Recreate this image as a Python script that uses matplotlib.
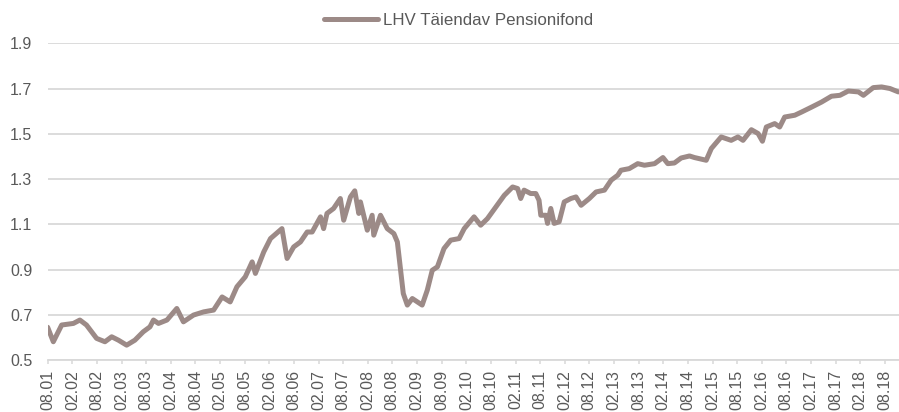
import matplotlib
matplotlib.use('Agg')
import matplotlib.pyplot as plt
import matplotlib.dates as mdates
import numpy as np
import pandas as pd

plt.rcParams['font.family'] = ['Liberation Sans', 'DejaVu Sans']

# values
dates = ['2001-08-01', '2001-09-12', '2001-11-13', '2002-02-08', '2002-03-28', '2002-05-16',
         '2002-07-30', '2002-09-30', '2002-11-19', '2003-01-08', '2003-03-10', '2003-05-10',
         '2003-07-11', '2003-08-30', '2003-09-25', '2003-11-01', '2004-01-03', '2004-03-16',
         '2004-05-04', '2004-07-18', '2004-10-01', '2004-12-14', '2005-02-15', '2005-04-16',
         '2005-06-05', '2005-08-06', '2005-09-26', '2005-10-20', '2005-12-21', '2006-02-09',
         '2006-05-05', '2006-06-12', '2006-07-31', '2006-09-19', '2006-11-08', '2006-12-15',
         '2007-02-15', '2007-03-10', '2007-04-04', '2007-05-23', '2007-07-12', '2007-08-06',
         '2007-09-25', '2007-10-27', '2007-11-26', '2007-12-08', '2008-01-28', '2008-03-04',
         '2008-03-16', '2008-05-05', '2008-06-24', '2008-08-12', '2008-09-07', '2008-10-01',
         '2008-10-21', '2008-11-20', '2008-12-27', '2009-02-03', '2009-03-10', '2009-04-17',
         '2009-05-24', '2009-07-01', '2009-08-19', '2009-10-08', '2009-12-09', '2010-01-16',
         '2010-03-30', '2010-05-18', '2010-07-07', '2010-09-08', '2010-11-09', '2011-01-10',
         '2011-02-16', '2011-03-11', '2011-04-05', '2011-05-24', '2011-07-01', '2011-07-25',
         '2011-08-07', '2011-09-14', '2011-09-26', '2011-10-20', '2011-11-14', '2011-12-21',
         '2012-01-28', '2012-03-17', '2012-04-24', '2012-06-01', '2012-08-01', '2012-09-20',
         '2012-11-21', '2013-01-10', '2013-02-28', '2013-03-24', '2013-05-24', '2013-07-26',
         '2013-09-14', '2013-11-28', '2014-01-29', '2014-03-06', '2014-04-24', '2014-06-13',
         '2014-08-14', '2014-09-20', '2014-10-27', '2014-12-16', '2015-01-23', '2015-04-06',
         '2015-06-19', '2015-08-08', '2015-09-15', '2015-11-16', '2016-01-05', '2016-02-06',
         '2016-03-06', '2016-05-07', '2016-06-13', '2016-07-20', '2016-10-03', '2016-11-22',
         '2017-02-05', '2017-04-19', '2017-07-02', '2017-09-03', '2017-11-04', '2018-01-18',
         '2018-02-24', '2018-05-08', '2018-07-09', '2018-09-09', '2018-11-10']
values = [0.645, 0.581, 0.655, 0.662, 0.677, 0.655,
          0.596, 0.581, 0.603, 0.588, 0.566, 0.588,
          0.625, 0.647, 0.677, 0.662, 0.677, 0.728,
          0.669, 0.699, 0.713, 0.721, 0.779, 0.757,
          0.824, 0.868, 0.934, 0.883, 0.978, 1.037,
          1.081, 0.949, 1.000, 1.022, 1.066, 1.066,
          1.133, 1.081, 1.148, 1.170, 1.214, 1.118,
          1.221, 1.248, 1.148, 1.199, 1.074, 1.140,
          1.052, 1.140, 1.081, 1.059, 1.022, 0.897,
          0.794, 0.743, 0.772, 0.757, 0.743, 0.809,
          0.897, 0.912, 0.993, 1.030, 1.037, 1.081,
          1.133, 1.096, 1.125, 1.177, 1.228, 1.265,
          1.258, 1.214, 1.251, 1.236, 1.236, 1.206,
          1.140, 1.140, 1.104, 1.170, 1.104, 1.111,
          1.199, 1.214, 1.221, 1.184, 1.214, 1.243,
          1.251, 1.295, 1.317, 1.339, 1.346, 1.368,
          1.361, 1.368, 1.395, 1.368, 1.371, 1.393,
          1.402, 1.395, 1.390, 1.383, 1.435, 1.486,
          1.471, 1.486, 1.471, 1.518, 1.501, 1.467,
          1.530, 1.545, 1.530, 1.574, 1.582, 1.596,
          1.618, 1.640, 1.666, 1.670, 1.689, 1.685,
          1.670, 1.704, 1.707, 1.700, 1.685]
series_name = 'LHV Täiendav Pensionifond'
y_ticks = [0.5, 0.7, 0.9, 1.1, 1.3, 1.5, 1.7, 1.9]

line_color = '#9c8a87'
grid_color = '#d9d9d9'
text_color = '#595959'

x = pd.to_datetime(dates)
tick_dates = pd.date_range('2001-08-01', '2018-08-01', freq='6MS')

fig = plt.figure(figsize=(8.99, 4.12), dpi=100)
ax = fig.add_axes([0.053, 0.126, 0.947, 0.769])

ax.plot(x, values, color=line_color, lw=3.6, solid_joinstyle='round',
        solid_capstyle='round', label=series_name)

ax.set_xlim(pd.Timestamp('2001-08-01'), pd.Timestamp('2018-11-15'))
ax.set_ylim(0.5, 1.9)
ax.set_yticks(y_ticks)
ax.set_yticklabels([f'{t:.1f}' for t in y_ticks])
ax.set_xticks(tick_dates)
ax.xaxis.set_major_formatter(mdates.DateFormatter('%m.%y'))

ax.grid(axis='y', color=grid_color, lw=1.3)
ax.set_axisbelow(True)
for s in ['top', 'right', 'left']:
    ax.spines[s].set_visible(False)
ax.spines['bottom'].set_color(grid_color)
ax.spines['bottom'].set_linewidth(1.3)

ax.tick_params(axis='y', length=0, pad=11, labelsize=11.5, labelcolor=text_color)
ax.tick_params(axis='x', length=3, width=1.1, color=grid_color, pad=4,
               labelsize=11.5, labelcolor=text_color, labelrotation=90)

fig.legend(loc='center', bbox_to_anchor=(0.51, 0.951), frameon=False,
           fontsize=12.2, handlelength=3.2, handletextpad=0.3,
           labelcolor=text_color)

plt.savefig('out.png', dpi=100)
plt.close()
